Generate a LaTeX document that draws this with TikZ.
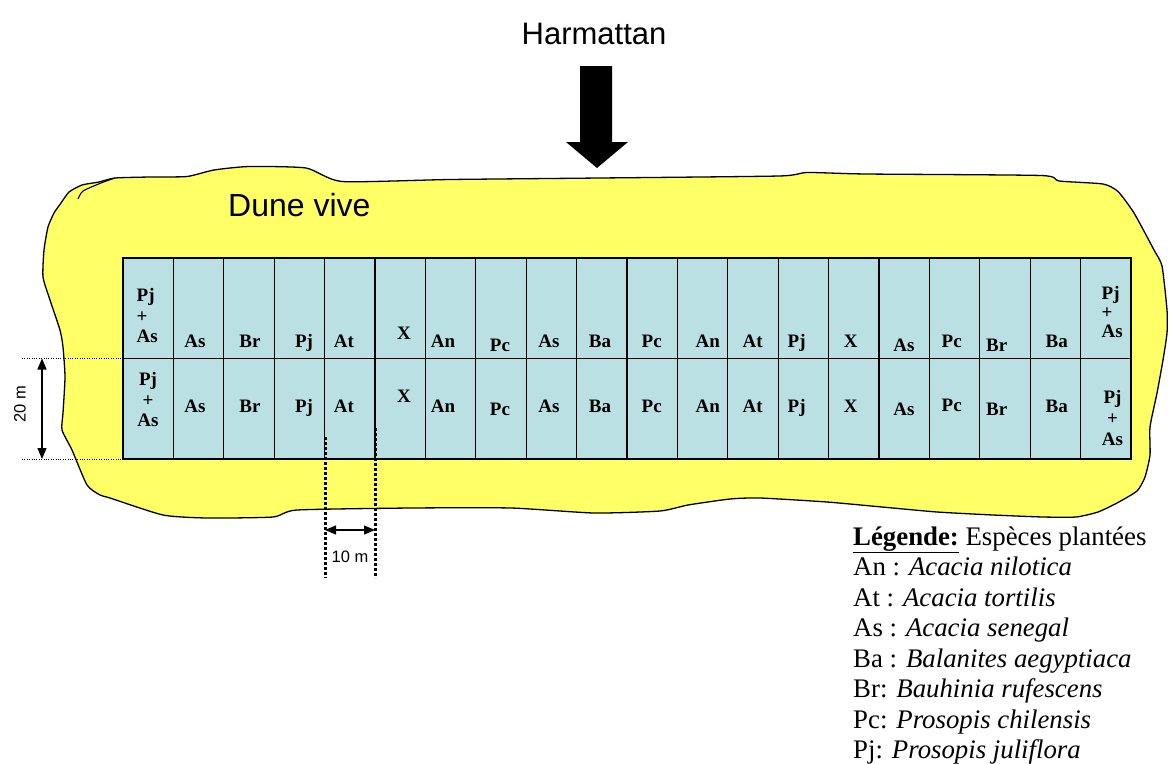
\documentclass[tikz,border=0pt]{standalone}
\usepackage{fontspec}
\setmainfont{Liberation Serif}
\newfontfamily\arialf{Liberation Sans}
\usetikzlibrary{arrows.meta}
\definecolor{dune}{RGB}{255,255,102}
\definecolor{plotblue}{RGB}{187,224,227}

\tikzset{
  duneshape/.style={draw=black, line width=1.3pt, fill=dune},
  gridline/.style={draw=black, line width=1.3pt},
  lbl/.style={font=\bfseries\fontsize{19}{21}\selectfont, inner sep=0pt, anchor=base},
  stack/.style={font=\bfseries\fontsize{19}{20.5}\selectfont, inner sep=0pt},
  thindot/.style={line width=0.9pt, dash pattern=on 1pt off 1.4pt},
  thickdot/.style={line width=3pt, dash pattern=on 2.6pt off 2.4pt},
  dimarrow/.style={line width=1.3pt, {Triangle[length=11pt,width=9pt]}-{Triangle[length=11pt,width=9pt]}},
  sanslabel/.style={font=\arialf\fontsize{16.5}{18}\selectfont, inner sep=0pt},
  legline/.style={anchor=base west, inner sep=0pt, font=\fontsize{26.8}{30.5}\selectfont},
}

\begin{document}
\begin{tikzpicture}[x=1pt, y=-1pt]
\useasboundingbox (0,0) rectangle (1169,763);

% wind label and block arrow
\node[font=\arialf\fontsize{31}{34}\selectfont, anchor=base, inner sep=0pt] (wind) at (594,44) {Harmattan};
\fill[black] (580,66) -- (612,66) -- (612,142) -- (628,142) -- (597,168) -- (566,142) -- (580,142) -- cycle;

% the moving dune
\draw[duneshape] plot[smooth cycle, tension=0.35] coordinates {
  (115,178) (150,177) (187,176.5) (214,170) (249,166.5) (306,168) (342,181.5)
  (450,179.5) (600,178) (779,176) (807,172.5) (866,174) (1041,175.5) (1059,181)
  (1103,184) (1118,191.5) (1134,213) (1154,250) (1162,266) (1167,310) (1167,333)
  (1163,360) (1157,393) (1150,427) (1150,455) (1145,477) (1137,491) (1117,503)
  (1098,512) (1076,517) (1043,517) (993,515) (937,512) (882,507) (827,502)
  (760,498) (730,499) (688,505) (660,511) (594,513) (511,508) (411,508)
  (297,510) (273,517) (207,518) (163,515) (110,498) (100,495) (87,485)
  (72,450) (62,430) (63,413) (65,377) (63,347) (60,330) (50,300) (43,277)
  (44,250) (48,227) (54,213) (61,203) (69,192) (82,185) (99,182)};
\draw[line width=1.1pt] plot[smooth, tension=0.4] coordinates {(78,199) (83,191) (101,183) (115,178)};

\node[font=\arialf\fontsize{32}{35}\selectfont, anchor=base west, inner sep=0pt] (dune) at (228,216) {Dune vive};

% plots: two rows of twenty 10 m strips
\fill[plotblue] (123,258) rectangle (1131,459);
\foreach \i in {1,...,19} {
  \draw[gridline] ({123+50.4*\i},258) -- ({123+50.4*\i},459);
}
\draw[gridline] (123,358.5) -- (1131,358.5);
\draw[gridline] (123,258) rectangle (1131,459);

% species, upper row
\node[stack, align=left, anchor=west] (ua0) at (136.5,315.7) {Pj\\+\\As};
\node[lbl] (ua1) at (195,347) {As};
\node[lbl] (ua2) at (250,347) {Br};
\node[lbl] (ua3) at (304,347) {Pj};
\node[lbl] (ua4) at (344,347) {At};
\node[lbl] (ua5) at (404,339) {X};
\node[lbl] (ua6) at (443,347) {An};
\node[lbl] (ua7) at (500,351) {Pc};
\node[lbl] (ua8) at (549,347) {As};
\node[lbl] (ua9) at (600,347) {Ba};
\node[lbl] (ua10) at (651.7,347) {Pc};
\node[lbl] (ua11) at (707.7,347) {An};
\node[lbl] (ua12) at (752.7,347) {At};
\node[lbl] (ua13) at (796.7,347) {Pj};
\node[lbl] (ua14) at (850.7,347) {X};
\node[lbl] (ua15) at (904,351) {As};
\node[lbl] (ua16) at (951.7,347) {Pc};
\node[lbl] (ua17) at (996.7,351) {Br};
\node[lbl] (ua18) at (1056.7,347) {Ba};
\node[stack, align=left, anchor=west] (ua19) at (1101.5,312.2) {Pj\\[-1.5pt]+\\[-1.5pt]As};

% species, lower row
\node[stack, align=center] (da0) at (148,399.7) {Pj\\+\\As};
\node[lbl] (da1) at (195,412) {As};
\node[lbl] (da2) at (250,412) {Br};
\node[lbl] (da3) at (304,412) {Pj};
\node[lbl] (da4) at (344,412) {At};
\node[lbl] (da5) at (404,402) {X};
\node[lbl] (da6) at (443,412) {An};
\node[lbl] (da7) at (500,415) {Pc};
\node[lbl] (da8) at (549,412) {As};
\node[lbl] (da9) at (600,412) {Ba};
\node[lbl] (da10) at (651.7,412) {Pc};
\node[lbl] (da11) at (707.7,412) {An};
\node[lbl] (da12) at (752.7,412) {At};
\node[lbl] (da13) at (796.7,412) {Pj};
\node[lbl] (da14) at (850.7,412) {X};
\node[lbl] (da15) at (904,415) {As};
\node[lbl] (da16) at (951.7,411) {Pc};
\node[lbl] (da17) at (996.7,415) {Br};
\node[lbl] (da18) at (1056.7,412) {Ba};
\node[stack, align=center] (da19) at (1112.5,418.2) {Pj\\[0.5pt]+\\[0.5pt]As};

% 20 m dimension
\coordinate (wtop) at (22,358.5);
\coordinate (wtopend) at (163,358.5);
\coordinate (wbot) at (22,459);
\coordinate (wbotend) at (163,459);
\coordinate (wa) at (42,358.5);
\coordinate (wb) at (42,459);
\draw[thindot] (wtop) -- (wtopend);
\draw[thindot] (wbot) -- (wbotend);
\draw[dimarrow] (wa) -- (wb);
\node[sanslabel, rotate=90] (w20) at (20,404) {20 m};

% 10 m dimension
\coordinate (la) at (325,437);
\coordinate (lae) at (325,578);
\coordinate (lb) at (375,428);
\coordinate (lbe) at (375,578);
\coordinate (ha) at (325,530);
\coordinate (hb) at (375,530);
\draw[thickdot] (la) -- (lae);
\draw[thickdot] (lb) -- (lbe);
\draw[dimarrow] (ha) -- (hb);
\node[sanslabel] (l10) at (350,556.5) {10 m};

% legend
\node[legline] (leg0) at (853,545) {\underline{\textbf{Légende:}} Espèces plantées};
\node[legline] (leg1) at (853,575.5) {An : \textit{Acacia nilotica}};
\node[legline] (leg2) at (853,606) {At : \textit{Acacia tortilis}};
\node[legline] (leg3) at (853,636.5) {As : \textit{Acacia senegal}};
\node[legline] (leg4) at (853,667) {Ba : \textit{Balanites aegyptiaca}};
\node[legline] (leg5) at (853,697.5) {Br: \textit{Bauhinia rufescens}};
\node[legline] (leg6) at (853,728) {Pc: \textit{Prosopis chilensis}};
\node[legline] (leg7) at (853,758.5) {Pj: \textit{Prosopis juliflora}};
\end{tikzpicture}
\end{document}
